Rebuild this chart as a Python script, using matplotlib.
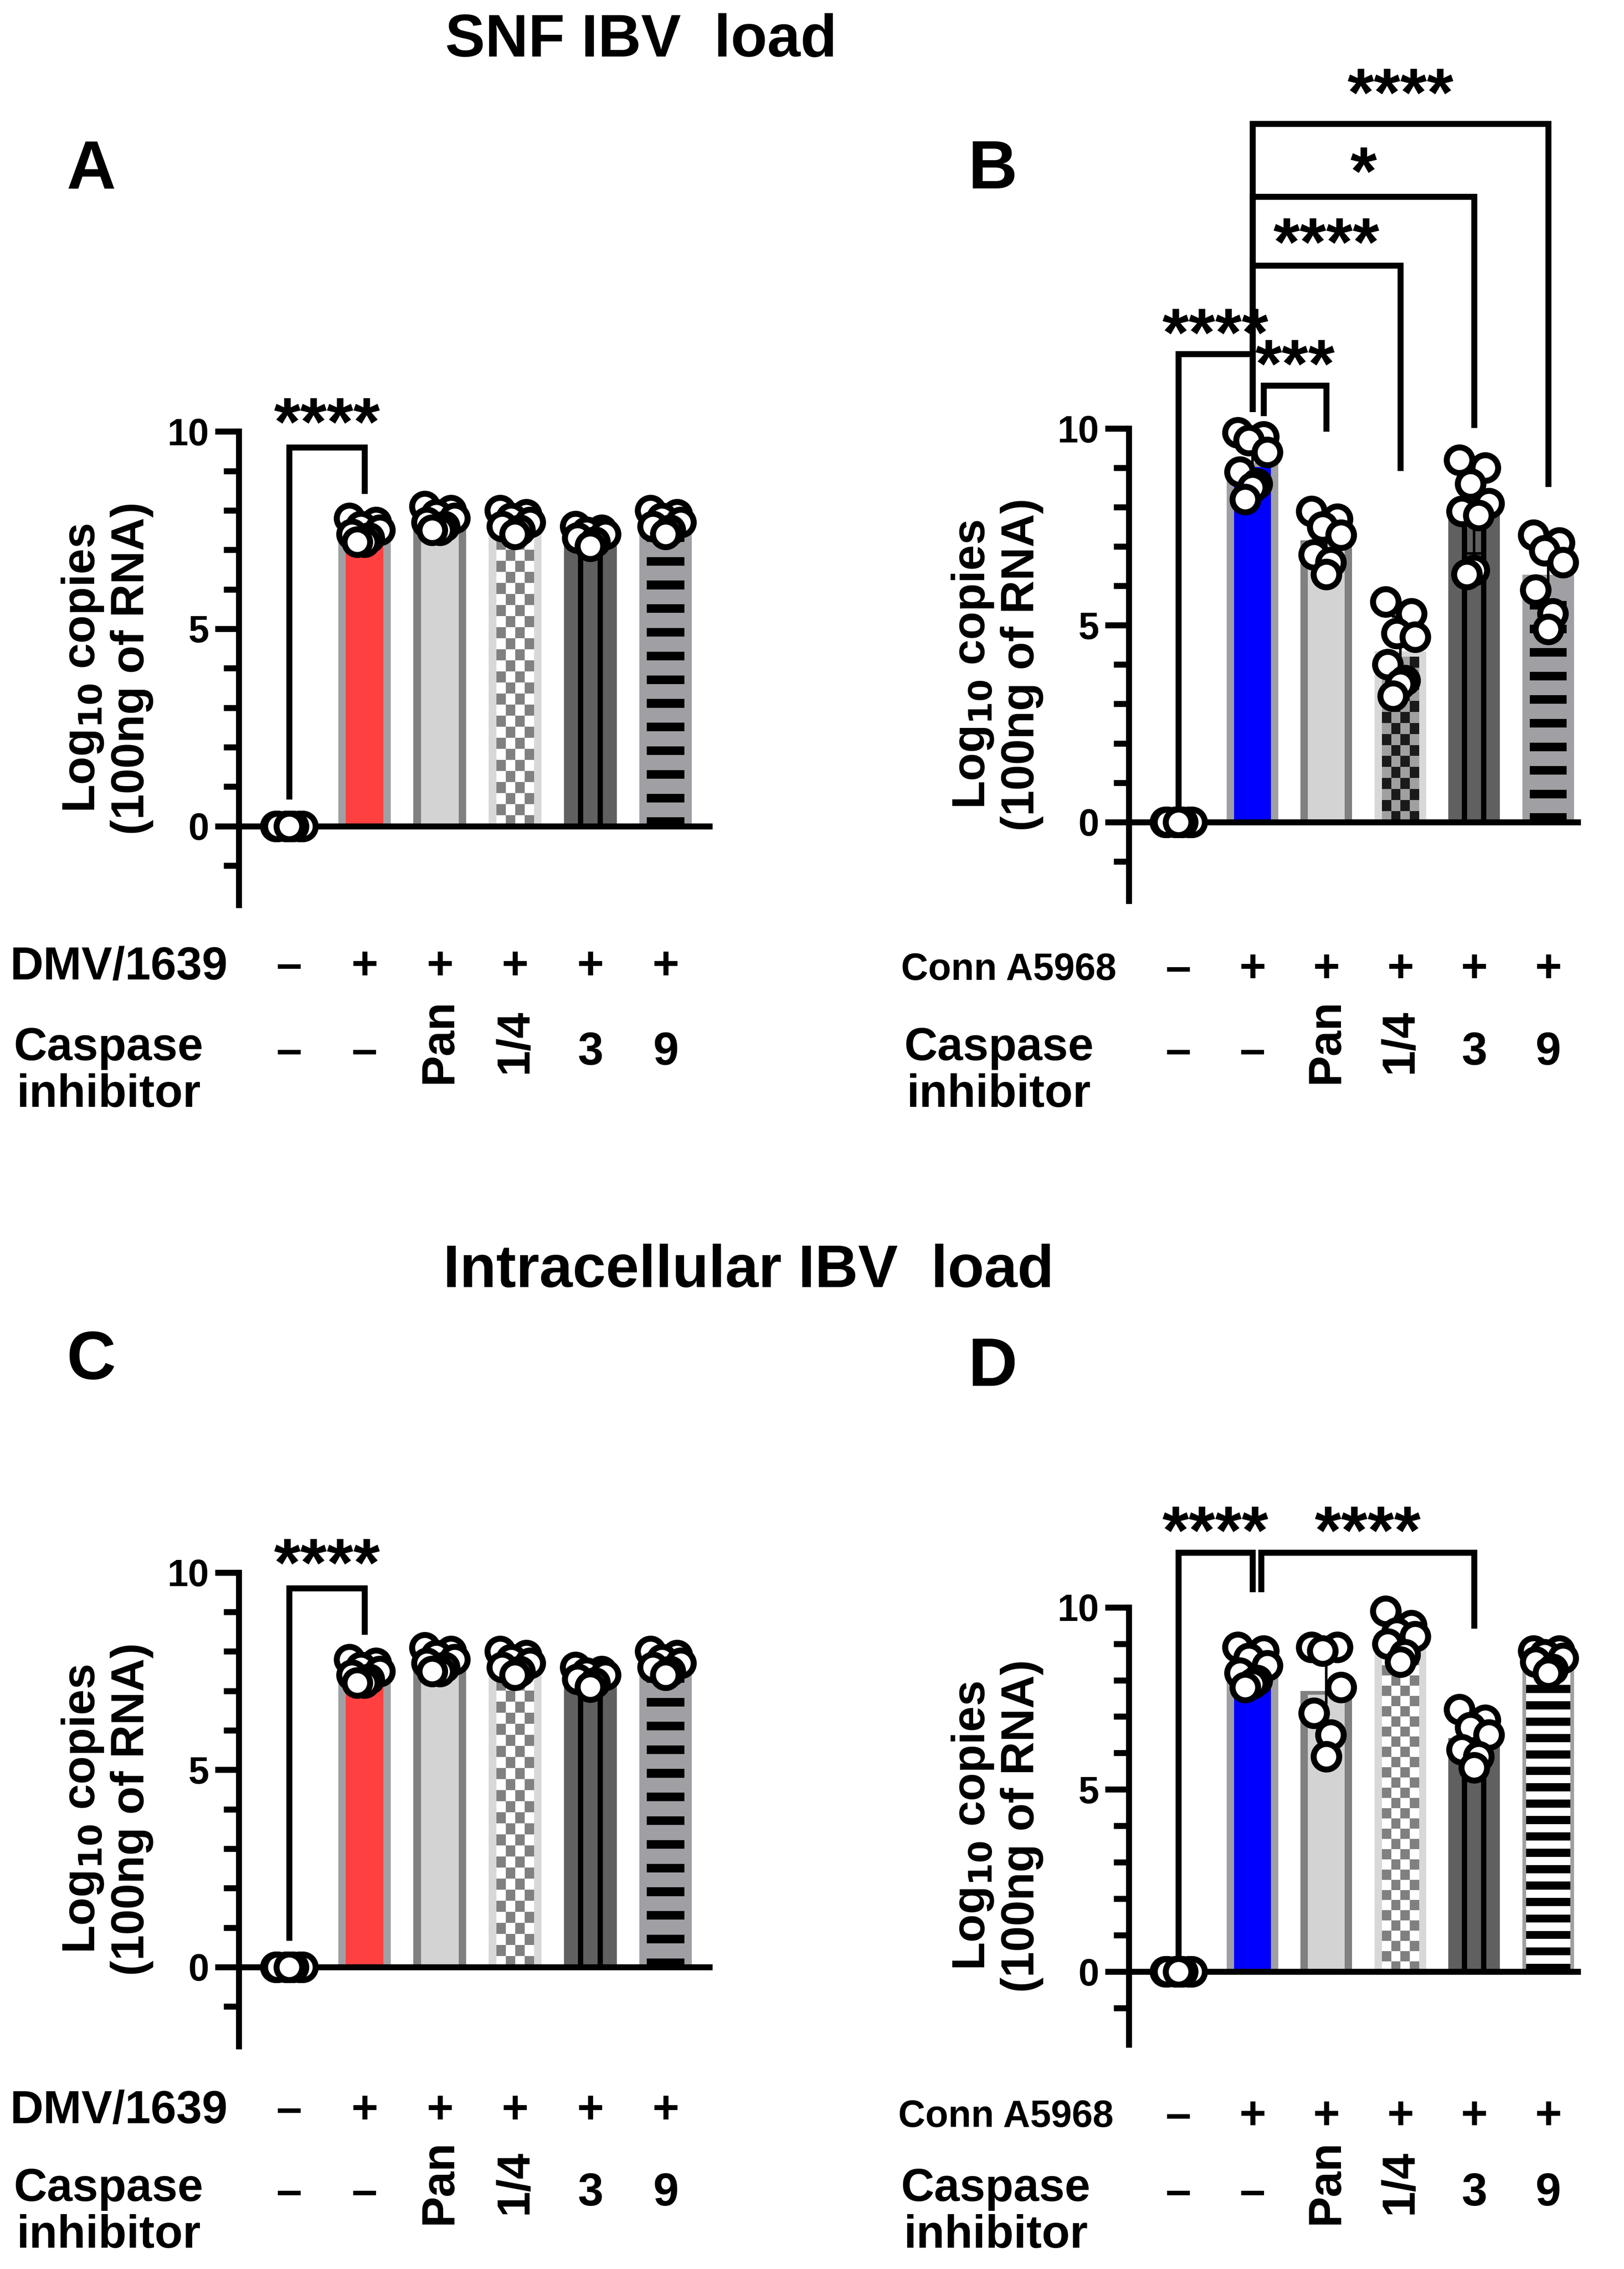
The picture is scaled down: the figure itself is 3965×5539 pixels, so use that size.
import numpy as np
import matplotlib
matplotlib.use("Agg")
import matplotlib.pyplot as plt
import matplotlib.transforms as mtr

plt.rcParams['font.family'] = 'Liberation Sans'
plt.rcParams['font.weight'] = 'bold'

W, H = 1122, 1567
fig = plt.figure(figsize=(3965/300, 5539/300), dpi=300)

# ---- data ----
A_pts = [[0]*7,
         [7.8, 7.7, 7.6, 7.5, 7.4, 7.3, 7.2, 7.2],
         [8.1, 8.0, 7.9, 7.8, 7.7, 7.6, 7.5, 7.5],
         [8.0, 7.9, 7.8, 7.7, 7.6, 7.5, 7.4],
         [7.6, 7.5, 7.45, 7.4, 7.3, 7.2, 7.1],
         [8.0, 7.9, 7.8, 7.7, 7.6, 7.5, 7.4]]
B_pts = [[0]*7,
         [9.9, 9.8, 9.7, 9.4, 8.9, 8.6, 8.5, 8.2],
         [7.9, 7.7, 7.5, 7.3, 6.8, 6.6, 6.3],
         [5.6, 5.3, 4.8, 4.7, 4.0, 3.6, 3.5, 3.2],
         [9.2, 9.0, 8.6, 8.1, 7.9, 7.8, 6.4, 6.3],
         [7.3, 7.1, 6.9, 6.6, 5.9, 5.3, 4.9]]
C_pts = A_pts
D_pts = [[0]*7,
         [8.9, 8.8, 8.6, 8.4, 8.2, 8.0, 7.9, 7.8],
         [8.9, 8.9, 8.8, 7.8, 7.1, 6.5, 5.9],
         [9.9, 9.5, 9.3, 9.2, 9.0, 8.7, 8.5],
         [7.2, 6.9, 6.7, 6.5, 6.1, 5.9, 5.6],
         [8.8, 8.8, 8.7, 8.6, 8.5, 8.3, 8.2]]
virus_row = ['–', '+', '+', '+', '+', '+']
inhib_row = ['–', '–', 'Pan', '1/4', '3', '9']

jit = [-0.2, 0.15, -0.05, 0.2, -0.17, 0.06, 0.0, -0.1]

def checker(ax, x, w, h, c1, c2, zb):
    ny = max(int(h / 0.28), 1)
    arr = np.indices((ny, 4)).sum(axis=0) % 2
    cmap = matplotlib.colors.ListedColormap([c1, c2])
    ax.imshow(arr, extent=(x - w/2, x + w/2, 0, ny*0.28), cmap=cmap, aspect='auto',
              interpolation='nearest', zorder=zb, origin='lower')

def draw_panel(ax, pts, first_color, dark_checker, d_style):
    means = [np.mean(p) for p in pts]
    sds = [np.std(p, ddof=1) for p in pts]
    Wo, Wi = 0.7, 0.5
    for i in range(1, 6):
        h = means[i]
        if i == 1:
            ax.bar(i, h, Wo, color='#A0A0A4', zorder=1)
            ax.bar(i, h - 0.1, Wi, color=first_color, zorder=2)
        elif i == 2:
            ax.bar(i, h, Wo, color='#808080', zorder=1)
            ax.bar(i, h - 0.1, Wi, color='#D3D3D3', zorder=2)
        elif i == 3:
            ax.bar(i, h, Wo, color='#D8D8D8', zorder=1)
            if dark_checker:
                checker(ax, i, Wi, h - 0.1, '#A0A0A0', '#1A1A1A', 2)
            else:
                checker(ax, i, Wi, h - 0.1, '#FFFFFF', '#808080', 2)
            ax.bar(i, 30, Wo, bottom=h, color='white', zorder=2.5)
        elif i == 4:
            ax.bar(i, h, Wo, color='#606060', zorder=1)
            for dx in (-0.13, 0.13):
                ax.bar(i + dx, h, 0.07, color='black', zorder=2)
        else:
            ax.bar(i, h, Wo, color='#A0A0A4', zorder=1)
            if d_style:
                ax.bar(i, h - 0.1, Wi + 0.1, color='white', zorder=1.5)
            b = 0.0
            while b + 0.2 < h - 0.3:
                ax.bar(i, 0.22, Wi + (0.1 if d_style else 0), bottom=b, color='black', zorder=2)
                b += 0.6 if not d_style else 0.45
        ax.errorbar(i, means[i], yerr=sds[i], color='black', lw=1.5, capsize=5,
                    capthick=1.5, zorder=4)
    ax.set_ylim(-2, 10)
    for i, p in enumerate(pts):
        xs = [i + jit[k % len(jit)] * (0.9 if i == 0 else 1) for k in range(len(p))]
        ax.plot(xs, p, 'o', ms=15, mfc='white', mec='black', mew=3.5, zorder=5, clip_on=False)
    ax.spines['top'].set_visible(False)
    ax.spines['right'].set_visible(False)
    ax.spines['left'].set_linewidth(3.5)
    ax.spines['bottom'].set_position(('data', 0))
    ax.spines['bottom'].set_linewidth(3.5)
    ax.set_xticks([])
    ax.set_yticks([0, 5, 10])
    ax.set_yticks([-1, 1, 2, 3, 4, 6, 7, 8, 9], minor=True)
    ax.tick_params(axis='y', which='major', width=3.5, length=14, labelsize=22)
    ax.tick_params(axis='y', which='minor', width=3.5, length=9)
    for t in ax.get_yticklabels():
        t.set_fontweight('bold')
    ax.set_ylabel('Log$_{\\mathbf{10}}$ copies\n(100ng of RNA)', fontsize=27,
                  fontweight='bold', labelpad=8, linespacing=1.15)

def bracket(ax, x1, x2, y, l1, l2, text, ty):
    ax.plot([x1, x1, x2, x2], [l1, y, y, l2], color='black', lw=3.5, clip_on=False,
            solid_joinstyle='miter', zorder=6)
    ax.text((x1 + x2) / 2, ty, text, ha='center', va='center', fontsize=40,
            fontweight='bold', clip_on=False)

def fb(l, r, b, t):
    return [l/W, 1 - b/H, (r - l)/W, (b - t)/H]

axA = fig.add_axes(fb(165, 490, 625, 298))
axB = fig.add_axes(fb(780, 1090, 622, 296))
axC = fig.add_axes(fb(165, 490, 1413, 1086))
axD = fig.add_axes(fb(780, 1090, 1412, 1110))

draw_panel(axA, A_pts, '#FF4040', False, False)
draw_panel(axB, B_pts, '#0000FF', True, False)
draw_panel(axC, C_pts, '#FF4040', False, False)
draw_panel(axD, D_pts, '#0000FF', False, True)
for ax in (axA, axC):
    ax.set_xlim(-0.67, 5.58)
for ax in (axB, axD):
    ax.set_xlim(-0.67, 5.4)

bracket(axA, 0, 1, 9.6, 0.75, 8.5, '****', 10.1)
bracket(axC, 0, 1, 9.6, 0.75, 8.5, '****', 10.1)

bracket(axB, 0, 1, 11.9, 0.4, 11.1, '****', 12.3)
bracket(axB, 1.15, 2, 11.1, 10.4, 10.0, '***', 11.5)
bracket(axB, 1, 3, 14.15, 10.5, 9.0, '****', 14.6)
bracket(axB, 1, 4, 15.9, 10.5, 10.1, '*', 16.4)
bracket(axB, 1, 5, 17.75, 10.5, 8.6, '****', 18.4)

bracket(axD, 0, 1, 11.5, 0.4, 10.5, '****', 11.95)
bracket(axD, 1.12, 4, 11.5, 10.5, 9.5, '****', 11.95)

def rows(ax, y1, y2, vlabel, vsize, vx, cx):
    tr = mtr.blended_transform_factory(ax.transData, fig.transFigure)
    for i in range(6):
        fig.text(i, 1 - y1/H, virus_row[i], transform=tr, ha='center', va='center',
                 fontsize=27, fontweight='bold')
        rot = 90 if inhib_row[i] in ('Pan', '1/4') else 0
        fig.text(i, 1 - (y2 - (8 if rot else 0))/H, inhib_row[i], transform=tr,
                 ha='center', va='center', fontsize=27, fontweight='bold', rotation=rot)
    fig.text(vx/W, 1 - y1/H, vlabel, ha='center', va='center', fontsize=vsize, fontweight='bold')
    fig.text(cx/W, 1 - (y2 + 13)/H, 'Caspase\ninhibitor', ha='center', va='center',
             fontsize=27, fontweight='bold', linespacing=1.1)

rows(axA, 668, 727, 'DMV/1639', 27, 82, 75)
rows(axB, 670, 727, 'Conn A5968', 22, 697, 690)
rows(axC, 1458, 1515, 'DMV/1639', 27, 82, 75)
rows(axD, 1462, 1515, 'Conn A5968', 22, 695, 688)

fig.text(443/W, 1 - 28/H, 'SNF IBV  load', ha='center', va='center', fontsize=35, fontweight='bold')
fig.text(517/W, 1 - 878/H, 'Intracellular IBV  load', ha='center', va='center', fontsize=35, fontweight='bold')
for s, x, y in (('A', 63, 118), ('B', 686, 118), ('C', 63, 940), ('D', 686, 945)):
    fig.text(x/W, 1 - y/H, s, ha='center', va='center', fontsize=40, fontweight='bold')

fig.savefig('out.png', dpi=300)
